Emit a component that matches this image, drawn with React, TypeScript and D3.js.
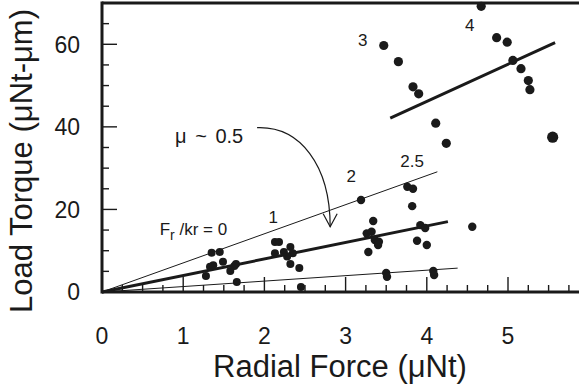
import React, { useEffect, useRef } from 'react';
import * as d3 from 'd3';

// radial force (uNt), load torque (uNt-um)
const lowLoadPoints = [
  [1.28, 3.9], [1.33, 6.1], [1.37, 6.5], [1.35, 9.5], [1.45, 9.7], [1.49, 7.3],
  [1.58, 5.1], [1.63, 6.3], [1.65, 6.8], [1.66, 2.4], [2.13, 12.1], [2.18, 12.1],
  [2.13, 9.4], [2.24, 9.7], [2.32, 10.9], [2.35, 9.4], [2.28, 8.6], [2.32, 6.8],
  [2.43, 5.8], [2.45, 1.2],
];
const midLoadPoints = [
  [3.19, 22.3], [3.76, 25.5], [3.83, 25.0], [3.82, 20.8], [3.34, 17.2], [3.26, 14.2],
  [3.32, 14.6], [3.36, 12.6], [3.41, 12.2], [3.40, 11.4], [3.28, 9.7], [3.92, 16.2],
  [3.98, 15.5], [3.88, 12.4], [4.0, 11.4], [4.56, 15.8], [3.5, 4.6], [3.51, 3.7],
  [4.08, 5.1], [4.09, 4.1],
];
const highLoadPoints = [
  [4.67, 69.2], [3.47, 59.7], [3.65, 55.8], [3.83, 49.7], [3.90, 48.0], [4.86, 61.6],
  [4.99, 60.5], [5.06, 56.1], [5.16, 54.1], [5.25, 51.2], [5.27, 49.0], [5.55, 37.5],
  [4.11, 40.9], [4.24, 36.0],
];

// lines through the origin: slope and end force
const originSlopes = [7.05, 4.0, 1.32];
const originEnds = [4.13, 4.26, 4.38];
const highFit = [[3.55, 42.1], [5.58, 60.4]];

const lineLabels = [
  { text: '1', x: 2.11, y: 18.2 },
  { text: '2', x: 3.07, y: 28.1 },
  { text: '2.5', x: 3.82, y: 31.8 },
  { text: '3', x: 3.21, y: 61.1 },
  { text: '4', x: 4.53, y: 64.7 },
];

const xTicks = [0, 1, 2, 3, 4, 5];
const yTicks = [0, 20, 40, 60];

const App = () => {
  const svgRef = useRef(null);

  useEffect(() => {
    const svg = d3.select(svgRef.current);
    svg.selectAll('*').remove();

    const W = 579;
    const H = 385;
    const left = 102, right = 579, top = 3, bottom = 292;
    const font = '"Liberation Sans", Arial, sans-serif';
    const ink = '#1a1a1a';

    svg.attr('width', W).attr('height', H);

    const x = d3.scaleLinear().domain([0, (right - left) / 81.2]).range([left, right]);
    const y = d3.scaleLinear().domain([0, 70]).range([bottom, top]);

    // minor ticks (inward)
    const xMinor = d3.range(0, 5.9, 0.25);
    svg.append('g').selectAll('line').data(xMinor).enter().append('line')
      .attr('x1', (d) => x(d)).attr('x2', (d) => x(d))
      .attr('y1', bottom).attr('y2', (d) => bottom - (Math.abs(d - Math.round(d)) < 1e-6 ? 15 : 7))
      .attr('stroke', ink).attr('stroke-width', 1.4);

    const yMinor = d3.range(0, 71, 5);
    svg.append('g').selectAll('line').data(yMinor).enter().append('line')
      .attr('y1', (d) => y(d)).attr('y2', (d) => y(d))
      .attr('x1', left).attr('x2', (d) => left + (d % 20 === 0 ? 15 : 7))
      .attr('stroke', ink).attr('stroke-width', 1.4);

    // frame lines
    svg.append('line').attr('x1', left).attr('x2', right).attr('y1', bottom).attr('y2', bottom)
      .attr('stroke', ink).attr('stroke-width', 3);
    svg.append('line').attr('x1', left).attr('x2', right).attr('y1', top).attr('y2', top)
      .attr('stroke', ink).attr('stroke-width', 3);
    svg.append('line').attr('x1', left).attr('x2', left).attr('y1', top - 1.5).attr('y2', bottom + 1.5)
      .attr('stroke', ink).attr('stroke-width', 3);

    // tick labels
    svg.append('g').selectAll('text').data(xTicks).enter().append('text')
      .attr('x', (d) => x(d)).attr('y', 344)
      .attr('text-anchor', 'middle').attr('font-family', font).attr('font-size', 23).attr('fill', ink)
      .text((d) => d);
    svg.append('g').selectAll('text').data(yTicks).enter().append('text')
      .attr('x', 80).attr('y', (d) => y(d)).attr('dy', '0.36em')
      .attr('text-anchor', 'end').attr('font-family', font).attr('font-size', 23).attr('fill', ink)
      .text((d) => d);

    // axis titles
    svg.append('text')
      .attr('x', 340).attr('y', 377).attr('text-anchor', 'middle')
      .attr('font-family', font).attr('font-size', 31).attr('fill', ink)
      .text('Radial Force (\u03bcNt)');
    svg.append('text')
      .attr('transform', 'translate(32, 161) rotate(-90)')
      .attr('text-anchor', 'middle')
      .attr('font-family', font).attr('font-size', 31).attr('fill', ink)
      .text('Load Torque (\u03bcNt-\u03bcm)');

    // lines from origin
    svg.append('g').selectAll('line').data(originSlopes).enter().append('line')
      .attr('x1', x(0)).attr('y1', y(0))
      .attr('x2', (d, i) => x(originEnds[i])).attr('y2', (d, i) => y(d * originEnds[i]))
      .attr('stroke', ink).attr('stroke-width', (d, i) => (i === 1 ? 3 : 1));

    svg.append('path')
      .attr('d', d3.line().x((d) => x(d[0])).y((d) => y(d[1]))(highFit))
      .attr('stroke', ink).attr('stroke-width', 3).attr('fill', 'none');

    // points
    const dots = (pts, r) => svg.append('g').selectAll('circle').data(pts).enter().append('circle')
      .attr('cx', (d) => x(d[0])).attr('cy', (d) => y(d[1])).attr('r', (d) => (d[0] > 5.5 ? r + 1 : r))
      .attr('fill', ink);
    dots(lowLoadPoints, 4);
    dots(midLoadPoints, 4.2);
    dots(highLoadPoints, 4.6);

    // labels on lines
    svg.append('g').selectAll('text').data(lineLabels).enter().append('text')
      .attr('x', (d) => x(d.x)).attr('y', (d) => y(d.y)).attr('dy', '0.36em')
      .attr('text-anchor', 'middle').attr('font-family', font).attr('font-size', 17).attr('fill', ink)
      .text((d) => d.text);

    const fr = svg.append('text').attr('x', x(0.71)).attr('y', y(13.8))
      .attr('font-family', font).attr('font-size', 17).attr('fill', ink);
    fr.append('tspan').text('F');
    fr.append('tspan').attr('dy', 5).attr('font-size', 14).text('r');
    fr.append('tspan').attr('dy', -5).text(' /kr = 0');

    svg.append('text').attr('x', x(0.9)).attr('y', y(36.1))
      .attr('font-family', font).attr('font-size', 20).attr('word-spacing', 3).attr('fill', ink)
      .text('\u03bc ~ 0.5');

    // curved arrow
    const p = (a, b) => [x(a), y(b)];
    const s = p(1.91, 39.8), c1 = p(2.44, 40.2), c2 = p(2.81, 30.7), t = p(2.81, 15.8);
    svg.append('path')
      .attr('d', `M${s}C${c1} ${c2} ${t}`)
      .attr('stroke', ink).attr('stroke-width', 1.2).attr('fill', 'none');
    svg.append('path')
      .attr('d', `M${t[0] - 7},${t[1] - 13}L${t[0]},${t[1]}L${t[0] + 7},${t[1] - 13}`)
      .attr('stroke', ink).attr('stroke-width', 1.2).attr('fill', 'none');
  }, []);

  return <svg ref={svgRef} style={{ position: 'absolute', left: 0, top: 0 }}></svg>;
};

export default App;
